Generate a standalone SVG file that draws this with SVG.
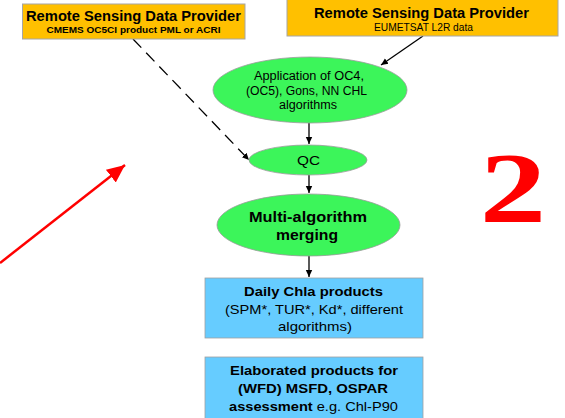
<svg xmlns="http://www.w3.org/2000/svg" width="565" height="418" viewBox="0 0 565 418">
<defs>
<style>
.org{fill:#FFC000;stroke:#A6A6A6;stroke-width:1}
.grn{fill:#3CF55A;stroke:#9a9a9a;stroke-width:0.8}
.blu{fill:#66CCFF;stroke:#A0A0A0;stroke-width:0.8}
text{font-family:"Liberation Sans",Arial,sans-serif;fill:#000;text-anchor:middle}
.b{font-weight:bold}
.c{stroke:#000;stroke-width:1.3;fill:none}
</style>
<marker id="ah" markerWidth="8" markerHeight="8" refX="7" refY="4" orient="auto" markerUnits="userSpaceOnUse">
<path d="M0,0.8 L7,4 L0,7.2 Z" fill="#000"/>
</marker>
<marker id="rh" markerWidth="20" markerHeight="20" refX="18" refY="10" orient="auto" markerUnits="userSpaceOnUse">
<path d="M0,2 L18,10 L0,18 Z" fill="#FF0000"/>
</marker>
</defs>
<rect width="565" height="418" fill="#fff"/>
<g id="connectors">
<line class="c" x1="423" y1="36" x2="381" y2="65" marker-end="url(#ah)"/>
<line class="c" x1="133" y1="39" x2="249" y2="160" stroke-dasharray="12,7" marker-end="url(#ah)"/>
<line class="c" x1="309" y1="123" x2="309" y2="144" marker-end="url(#ah)"/>
<line class="c" x1="309" y1="175" x2="309" y2="193" marker-end="url(#ah)"/>
<line class="c" x1="309" y1="256" x2="309" y2="277" marker-end="url(#ah)"/>
<line x1="0" y1="263" x2="125" y2="165" stroke="#FF0000" stroke-width="2.5" marker-end="url(#rh)"/>
</g>
<g id="provider1">
<rect class="org" x="22.5" y="4" width="222.5" height="35"/>
<text class="b" x="133.5" y="21" font-size="14" textLength="215" lengthAdjust="spacingAndGlyphs">Remote Sensing Data Provider</text>
<text class="b" x="133.5" y="33" font-size="9" textLength="174" lengthAdjust="spacingAndGlyphs">CMEMS OC5CI product PML or ACRI</text>
</g>
<g id="provider2">
<rect class="org" x="287" y="-1" width="271" height="37"/>
<text class="b" x="421.5" y="18" font-size="14" textLength="215" lengthAdjust="spacingAndGlyphs">Remote Sensing Data Provider</text>
<text x="423.5" y="31" font-size="10" textLength="99" lengthAdjust="spacingAndGlyphs">EUMETSAT L2R data</text>
</g>
<g id="algorithms">
<ellipse class="grn" cx="310" cy="90" rx="97" ry="33"/>
<text x="309" y="80" font-size="12" textLength="110" lengthAdjust="spacingAndGlyphs">Application of OC4,</text>
<text x="306.5" y="95" font-size="12" textLength="121" lengthAdjust="spacingAndGlyphs">(OC5), Gons, NN CHL</text>
<text x="308" y="109" font-size="12" textLength="58" lengthAdjust="spacingAndGlyphs">algorithms</text>
</g>
<g id="qc">
<ellipse class="grn" cx="308" cy="160" rx="59" ry="15"/>
<text x="308.5" y="165" font-size="13.5" textLength="23" lengthAdjust="spacingAndGlyphs">QC</text>
</g>
<g id="merging">
<ellipse class="grn" cx="308.5" cy="225" rx="91.5" ry="31"/>
<text class="b" x="308" y="222" font-size="15" textLength="118" lengthAdjust="spacingAndGlyphs">Multi-algorithm</text>
<text class="b" x="307" y="240" font-size="15" textLength="62" lengthAdjust="spacingAndGlyphs">merging</text>
</g>
<g id="daily">
<rect class="blu" x="205" y="278" width="218" height="60"/>
<text class="b" x="313.5" y="296" font-size="13" textLength="139" lengthAdjust="spacingAndGlyphs">Daily Chla products</text>
<text x="314" y="314" font-size="13" textLength="178" lengthAdjust="spacingAndGlyphs">(SPM*, TUR*, Kd*, different</text>
<text x="315" y="331" font-size="13" textLength="74" lengthAdjust="spacingAndGlyphs">algorithms)</text>
</g>
<g id="elaborated">
<rect class="blu" x="205" y="357" width="218" height="63"/>
<text class="b" x="314" y="375" font-size="13" textLength="168" lengthAdjust="spacingAndGlyphs">Elaborated products for</text>
<text class="b" x="313" y="393" font-size="13" textLength="150" lengthAdjust="spacingAndGlyphs">(WFD) MSFD, OSPAR</text>
<text x="313.5" y="411" font-size="13" textLength="169" lengthAdjust="spacingAndGlyphs"><tspan class="b">assessment</tspan> e.g. Chl-P90</text>
</g>
<text transform="translate(513,221) scale(1.33,1)" x="0" y="0" font-size="100" font-weight="bold" style="font-family:'Liberation Serif','Times New Roman',serif;fill:#FF0000">2</text>
</svg>
